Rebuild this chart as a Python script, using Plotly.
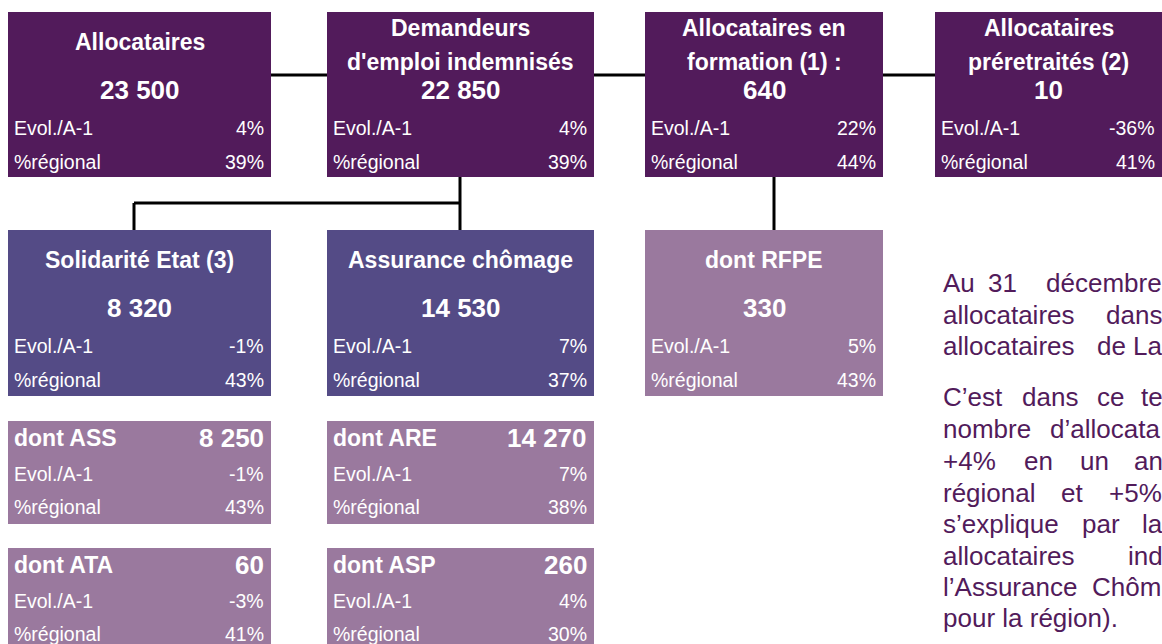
import plotly.graph_objects as go

# ── data ──────────────────────────────────────────────────────────────────────
categories = [
    "Allocataires", "Demandeurs d'emploi indemnisés", "Allocataires en formation (1) :",
    "Allocataires préretraités (2)", "Solidarité Etat (3)", "Assurance chômage",
    "dont RFPE", "dont ASS", "dont ARE", "dont ATA", "dont ASP",
]
title_lines = [
    ["Allocataires"], ["Demandeurs", "d'emploi indemnisés"], ["Allocataires en", "formation (1) :"],
    ["Allocataires", "préretraités (2)"], ["Solidarité Etat (3)"], ["Assurance chômage"],
    ["dont RFPE"], ["dont ASS"], ["dont ARE"], ["dont ATA"], ["dont ASP"],
]
effectifs = [23500, 22850, 640, 10, 8320, 14530, 330, 8250, 14270, 60, 260]
evol_a1 = [4, 4, 22, -36, -1, 7, 5, -1, 7, -3, 4]
part_regionale = [39, 39, 44, 41, 43, 37, 43, 43, 38, 41, 30]

comment_lines = [
    ["Au", "31", "décembre"],
    ["allocataires", "dans"],
    ["allocataires", "de", "La"],
    ["C\u2019est", "dans", "ce", "te"],
    ["nombre", "d\u2019allocata"],
    ["+4%", "en", "un", "an"],
    ["régional", "et", "+5%"],
    ["s\u2019explique", "par", "la"],
    ["allocataires", "ind"],
    ["l\u2019Assurance", "Chôm"],
    ["pour la région)."],
]

# ── layout (page pixels) ──────────────────────────────────────────────────────
DARK, BLUE, MAUVE = "#521B5B", "#544B86", "#9A799E"
TXT = "#521B5B"
box_x = [(8, 271), (327, 594), (645, 883), (935, 1175),
         (8, 271), (327, 594), (645, 883),
         (8, 271), (327, 594), (8, 271), (327, 594)]
box_y = [(12, 177)] * 4 + [(230, 396)] * 3 + [(421, 524)] * 2 + [(548, 651)] * 2
box_col = [DARK] * 4 + [BLUE, BLUE, MAUVE] + [MAUVE] * 4
compact = [False] * 7 + [True] * 4

# justified paragraph: word start positions, the right edge cuts the lines
word_x = [
    [941, 986, 1044], [941, 1104], [941, 1095, 1131], [941, 1020, 1095, 1139],
    [941, 1048], [941, 1022, 1078, 1132], [941, 1059, 1107], [941, 1080, 1140],
    [941, 1126], [941, 1090], [941],
]
line_y = [283, 315, 346, 397, 429, 461, 493, 524, 556, 587, 618]

connectors = [
    ((271, 75), (327, 75)), ((594, 75), (645, 75)), ((883, 75), (935, 75)),
    ((460, 177), (460, 230)), ((134, 203), (460, 203)), ((134, 203), (134, 230)),
    ((774, 177), (774, 230)),
]

FONT = "Liberation Sans, Arial, sans-serif"
W, H = 1162, 644


def fmt_num(v):
    return f"{v:,}".replace(",", " ")


fig = go.Figure()
annotations = []


def add_text(x, y, text, size, anchor="center", bold=False, color="white"):
    annotations.append(dict(
        x=x, y=y, xref="x", yref="y", text=f"<b>{text}</b>" if bold else text,
        showarrow=False, xanchor=anchor, yanchor="middle",
        font=dict(family=FONT, size=size, color=color),
    ))


for i, name in enumerate(categories):
    x0, x1 = box_x[i]
    y0, y1 = box_y[i]
    fig.add_shape(type="rect", x0=x0, x1=x1, y0=y0, y1=y1, xref="x", yref="y",
                  fillcolor=box_col[i], line=dict(width=0), layer="below")
    xr = min(x1, W) - 5
    if compact[i]:
        add_text(x0 + 4, y0 + 17, title_lines[i][0], 23, "left", True)
        add_text(xr, y0 + 17, fmt_num(effectifs[i]), 26, "right", True)
        ev_y, rg_y = y0 + 53, y0 + 86
    else:
        xc = (x0 + min(x1, W)) / 2
        lines = title_lines[i]
        if len(lines) == 1:
            add_text(xc, y0 + 30, lines[0], 23, bold=True)
        else:
            add_text(xc, y0 + 16, lines[0], 23, bold=True)
            add_text(xc, y0 + 50, lines[1], 23, bold=True)
        add_text(xc, y0 + 78, fmt_num(effectifs[i]), 26, bold=True)
        ev_y, rg_y = y0 + 116, y0 + 150
    add_text(x0 + 4, ev_y, "Evol./A-1", 19.5, "left")
    add_text(xr, ev_y, f"{evol_a1[i]}%", 19.5, "right")
    add_text(x0 + 4, rg_y, "%régional", 19.5, "left")
    add_text(xr, rg_y, f"{part_regionale[i]}%", 19.5, "right")

for (xa, ya), (xb, yb) in connectors:
    fig.add_shape(type="line", x0=xa, y0=ya, x1=xb, y1=yb, xref="x", yref="y",
                  line=dict(color="black", width=3))

for words, xs, y in zip(comment_lines, word_x, line_y):
    for w, x in zip(words, xs):
        add_text(x, y, w, 26, "left", color=TXT)

fig.update_layout(
    width=W, height=H,
    margin=dict(l=0, r=0, t=0, b=0),
    paper_bgcolor="white", plot_bgcolor="white",
    xaxis=dict(range=[0, W], visible=False, fixedrange=True),
    yaxis=dict(range=[H, 0], visible=False, fixedrange=True),
    annotations=annotations,
    showlegend=False,
)
# drop the default 8px body margin so the figure fills the window exactly
fig.write_html("out.html", config={"displayModeBar": False},
               post_script="document.body.style.margin='0px';")
